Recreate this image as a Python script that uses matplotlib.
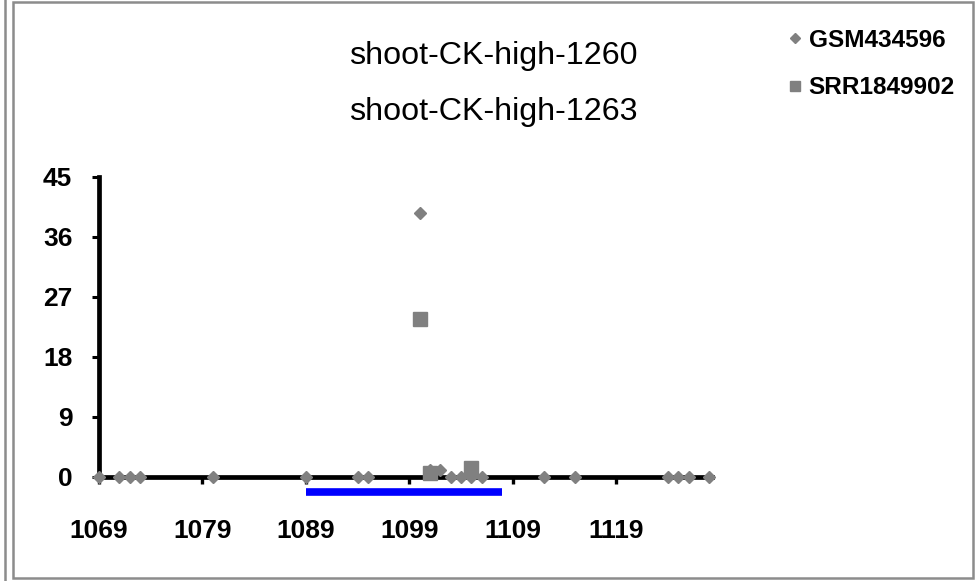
import matplotlib
matplotlib.use("Agg")
import matplotlib.pyplot as plt
from matplotlib.lines import Line2D
from matplotlib.patches import Rectangle

plt.rcParams["font.family"] = ["Liberation Sans", "DejaVu Sans"]

# Read positions and read counts for the two libraries
gsm_positions = [1069, 1071, 1072, 1073, 1080, 1089, 1094, 1095, 1100, 1101,
                 1102, 1103, 1104, 1105, 1106, 1112, 1115, 1124, 1125, 1126, 1128]
gsm_values = [0, 0, 0, 0, 0, 0, 0, 0, 39.6, 1.1,
              1.1, 0, 0, 0, 0, 0, 0, 0, 0, 0, 0]

srr_positions = [1100, 1101, 1105]
srr_values = [23.7, 0.6, 1.3]

series_labels = ["GSM434596", "SRR1849902"]
title_lines = ["shoot-CK-high-1260", "shoot-CK-high-1263"]

# Mature region shown as a bar under the axis
region_start, region_end, region_level = 1089, 1108, -2.2

x_ticks = [1069, 1079, 1089, 1099, 1109, 1119]
y_ticks = [0, 9, 18, 27, 36, 45]

W, H = 979, 581
fig = plt.figure(figsize=(W / 100, H / 100), dpi=100)
ax = fig.add_axes([98.75 / W, 1 - 510.3 / H, 613.25 / W, 333.3 / H])

grey = "#808080"
ax.plot(gsm_positions, gsm_values, linestyle="none", marker="D", ms=6.6,
        color=grey, mec=grey, clip_on=False, zorder=3, label=series_labels[0])
ax.plot(srr_positions, srr_values, linestyle="none", marker="s", ms=9.6,
        color=grey, mec=grey, clip_on=False, zorder=4, label=series_labels[1])
ax.plot([region_start, region_end], [region_level, region_level], color="#0000ff",
        lw=5.5, solid_capstyle="butt", clip_on=False, zorder=2)

ax.set_xlim(1069, 1128.25)
ax.set_ylim(-5, 45)
ax.set_xticks(x_ticks)
ax.set_yticks(y_ticks)
ax.set_xticklabels([str(t) for t in x_ticks])
ax.set_yticklabels([str(t) for t in y_ticks])

for side in ("top", "right"):
    ax.spines[side].set_visible(False)
ax.spines["bottom"].set_position(("data", 0))
ax.spines["bottom"].set_linewidth(3.4)
ax.spines["left"].set_linewidth(3.4)
ax.spines["left"].set_bounds(0, 45)
ax.spines["bottom"].set_zorder(1)

ax.tick_params(axis="x", direction="out", length=5, width=2.4, pad=25.5,
               labelsize=19)
ax.tick_params(axis="y", direction="out", length=5, width=2.2, pad=14,
               labelsize=19)
for lab in ax.get_xticklabels() + ax.get_yticklabels():
    lab.set_fontweight("bold")
ax.patch.set_visible(False)

# Titles
fig.text(493 / W, 1 - 56 / H, title_lines[0], ha="center", va="center",
         fontsize=23.2)
fig.text(493 / W, 1 - 112 / H, title_lines[1], ha="center", va="center",
         fontsize=23.2)

# Legend
leg = ax.legend(loc="upper left", bbox_to_anchor=(789 / W, 1 - 29 / H),
                bbox_transform=fig.transFigure, frameon=False,
                handlelength=0.5, handletextpad=0.3, labelspacing=1.0,
                markerscale=0.8, borderaxespad=0, borderpad=0,
                prop={"size": 17.6, "weight": "bold"})

# Outer frame
fig.add_artist(Rectangle((13 / W, 1 - 578 / H), (973.5 - 13) / W, (578 - 1.5) / H,
                         transform=fig.transFigure, fill=False,
                         edgecolor="#8c8c8c", lw=1.8))
fig.add_artist(Line2D([5 / W, 5 / W], [0, 1], transform=fig.transFigure,
                      color="#8c8c8c", lw=1.8))

fig.savefig("out.png", dpi=100)
